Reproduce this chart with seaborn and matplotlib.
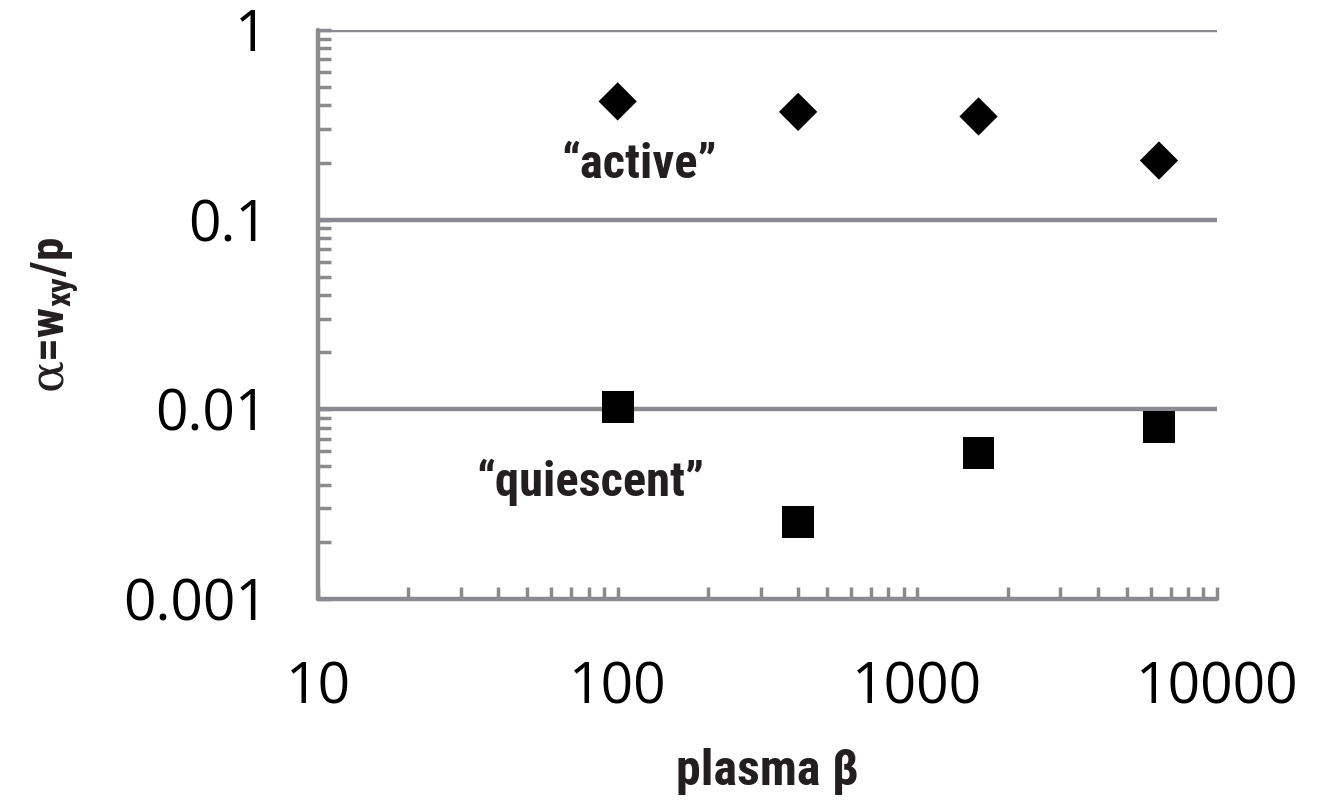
import numpy as np
import pandas as pd
import matplotlib
matplotlib.use("Agg")
import matplotlib.pyplot as plt
from matplotlib import font_manager
from matplotlib.ticker import LogLocator, FixedLocator, NullFormatter
import seaborn as sns

# === Data ===
beta = [100, 400, 1600, 6400]
alpha_active = [0.42, 0.37, 0.35, 0.205]
alpha_quiescent = [0.0103, 0.00255, 0.0059, 0.0081]

x_ticks = [10, 100, 1000, 10000]
x_ticklabels = ["10", "100", "1000", "10000"]
y_ticks = [0.001, 0.01, 0.1, 1]
y_ticklabels = ["0.001", "0.01", "0.1", "1"]

df = pd.concat([
    pd.DataFrame({"beta": beta, "alpha": alpha_active, "state": "active"}),
    pd.DataFrame({"beta": beta, "alpha": alpha_quiescent, "state": "quiescent"}),
])

# === Fonts ===
names = {f.name for f in font_manager.fontManager.ttflist}
narrow = None
for cand in ["Liberation Sans Narrow", "DejaVu Sans Condensed", "Roboto Condensed", "Open Sans Condensed"]:
    if cand in names:
        narrow = cand
        break
if narrow is None:
    narrow = "Roboto"
scale = 1.0 if narrow != "Roboto" else 0.9

sns.set_theme(style="white")
plt.rcParams["font.family"] = ["Open Sans", "DejaVu Sans"]
plt.rcParams["mathtext.fontset"] = "dejavuserif"

GRAY = "#8b8a8f"

fig = plt.figure(figsize=(13.2, 8.08), dpi=100)
ax = fig.add_axes([0.2409, 0.2587, 0.922 - 0.2409, 0.9629 - 0.2587])

sns.scatterplot(data=df[df.state == "active"], x="beta", y="alpha", marker="D",
                s=19.5 ** 2, color="black", edgecolor="none", ax=ax, zorder=5)
sns.scatterplot(data=df[df.state == "quiescent"], x="beta", y="alpha", marker="s",
                s=23 ** 2, color="black", edgecolor="none", ax=ax, zorder=5)

ax.set_xscale("log")
ax.set_yscale("log")
ax.set_xlim(10, 10000)
ax.set_ylim(0.001, 1)

# horizontal gridlines at the decades
for yv in y_ticks[1:]:
    ax.axhline(yv, color=GRAY, lw=3.2, zorder=1, solid_capstyle="round")

for side in ["top", "right"]:
    ax.spines[side].set_visible(False)
for side in ["left", "bottom"]:
    ax.spines[side].set_color(GRAY)
    ax.spines[side].set_linewidth(3.2)
    ax.spines[side].set_capstyle("round")

ax.xaxis.set_major_locator(FixedLocator(x_ticks))
ax.yaxis.set_major_locator(FixedLocator(y_ticks))
ax.set_xticklabels(x_ticklabels)
ax.set_yticklabels(y_ticklabels)
ax.xaxis.set_minor_locator(LogLocator(base=10, subs=np.arange(2, 10)))
ax.yaxis.set_minor_locator(LogLocator(base=10, subs=np.arange(2, 10)))
ax.xaxis.set_minor_formatter(NullFormatter())
ax.yaxis.set_minor_formatter(NullFormatter())

ax.tick_params(axis="both", which="both", direction="in", color=GRAY,
               width=2.5, length=9, labelcolor="black")
ax.tick_params(axis="x", which="major", labelsize=41, pad=44)
ax.tick_params(axis="y", which="major", labelsize=41, pad=36)
ax.tick_params(bottom=True, left=True, which="both")

label_font = dict(family=[narrow, "DejaVu Sans"], weight="bold", color="#231f20")
ax.set_xlabel("plasma β", fontsize=36 * scale, labelpad=22, **label_font)
ax.set_ylabel("$\\mathrm{\\alpha}$=w$_\\mathregular{xy}$/p", fontsize=34 * scale, labelpad=30, **label_font)

ax.text(118, 0.195, "“active”", ha="center", va="center", fontsize=35 * scale, **label_font)
ax.text(81, 0.0041, "“quiescent”", ha="center", va="center", fontsize=35 * scale, **label_font)

fig.savefig("out.png", dpi=100)
